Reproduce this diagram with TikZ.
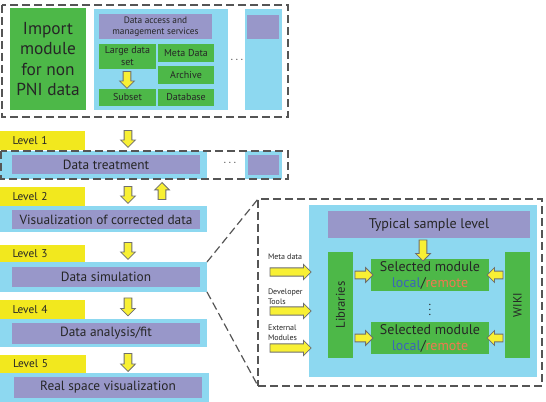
\documentclass[tikz,border=0pt]{standalone}
\usepackage{fontspec}
\setmainfont{PT Sans}
\usetikzlibrary{shapes.arrows,calc}

\definecolor{modgreen}{RGB}{77,184,72}
\definecolor{skyblue}{RGB}{141,216,240}
\definecolor{lavender}{RGB}{152,151,201}
\definecolor{lvlyellow}{RGB}{242,232,30}
\definecolor{arryellow}{RGB}{248,240,52}
\definecolor{arrgray}{RGB}{110,110,110}
\definecolor{dashgray}{RGB}{85,85,85}
\definecolor{localblue}{RGB}{60,100,185}
\definecolor{remoteorange}{RGB}{240,120,80}

\tikzset{
  sz/.style 2 args={minimum width=#1*0.75pt, minimum height=#2*0.75pt},
  plain/.style={inner sep=0pt, outer sep=0pt, align=center, text=black!85},
  gbox/.style={plain, fill=modgreen},
  bbox/.style={plain, fill=skyblue},
  pbox/.style={plain, fill=lavender},
  lvl/.style={plain, fill=lvlyellow, align=left, inner xsep=9.5pt,
    text width=45pt, minimum height=#1*0.75pt, font=\fontsize{8.5}{10}\selectfont},
  dashbox/.style={draw=dashgray, line width=0.9pt, dash pattern=on 6pt off 3pt},
  fatarrow/.style={single arrow, draw=arrgray, fill=arryellow, line width=0.6pt,
    inner ysep=2.6pt, inner xsep=0pt, single arrow head extend=2.6pt,
    single arrow head indent=0pt, minimum height=#1*0.75pt}
}

\begin{document}
\begin{tikzpicture}[x=0.75pt,y=0.75pt,yscale=-1,xscale=1]
\useasboundingbox (0,0) rectangle (546,402);

% import block
\node[gbox, sz={76}{102}, font=\fontsize{13}{15.4}\selectfont] (import) at (48,59) {Import\\module\\for non\\PNI data};
\node[bbox, sz={134}{101}] (dataaccess) at (161,59.5) {};
\node[pbox, sz={113}{25}, font=\fontsize{7}{8.6}\selectfont] (services) at (155.5,26.5) {Data access and\\management services};
\node[gbox, sz={57}{25}, font=\fontsize{7.5}{9}\selectfont] (largeset) at (127.5,56.5) {Large data\\set};
\node[gbox, sz={56}{18}, font=\fontsize{7.5}{9}\selectfont] (metadata) at (186,53) {Meta Data};
\node[gbox, sz={56}{18}, font=\fontsize{7.5}{9}\selectfont] (archive) at (186,75) {Archive};
\node[gbox, sz={57}{17}, font=\fontsize{7.5}{9}\selectfont] (subset) at (127.5,97.5) {Subset};
\node[gbox, sz={56}{17}, font=\fontsize{7.5}{9}\selectfont] (database) at (186,97.5) {Database};
\node[fatarrow={17}, rotate=-90] (setarrow) at (127,78) {};
\node[plain, font=\fontsize{8}{9}\selectfont] (dotsa) at (237,60) {$\cdots$};
\node[bbox, sz={37}{101}] (moreaccess) at (263.5,59.5) {};
\node[pbox, sz={32}{24}] (moreservices) at (263,27) {};
\draw[dashbox] (2,5) rectangle (288,117);

% levels
\node[fatarrow={17}, rotate=-90] (arrowa) at (128,137) {};
\node[lvl={19}] (levela) at (42.5,140.5) {Level 1};
\node[bbox, sz={207}{28}] (treatbg) at (103.5,165) {};
\node[pbox, sz={188}{19}, font=\fontsize{10}{12}\selectfont] (treat) at (106,164.5) {Data treatment};
\node[plain, font=\fontsize{8}{9}\selectfont] (dotsb) at (230,163) {$\cdots$};
\node[bbox, sz={37}{28}] (moretreatbg) at (263.5,165) {};
\node[pbox, sz={31}{20}] (moretreat) at (263.5,165) {};
\draw[dashbox] (1,151) rectangle (288,179);

\node[fatarrow={17}, rotate=-90] (arrowb) at (128,193) {};
\node[fatarrow={17}, rotate=90] (arrowback) at (162,193) {};
\node[lvl={19}] (levelb) at (42.5,196.5) {Level 2};
\node[bbox, sz={207}{26}] (visbg) at (103.5,219) {};
\node[pbox, sz={188}{19}, font=\fontsize{10}{12}\selectfont] (vis) at (106,219.5) {Visualization of corrected data};

\node[fatarrow={17}, rotate=-90] (arrowc) at (128,249) {};
\node[lvl={17}] (levelc) at (42.5,253.5) {Level 3};
\node[bbox, sz={207}{30}] (simbg) at (103.5,277) {};
\node[pbox, sz={188}{20}, font=\fontsize{10}{12}\selectfont] (sim) at (106,277) {Data simulation};

\node[fatarrow={18}, rotate=-90] (arrowd) at (128,305) {};
\node[lvl={19}] (leveld) at (42.5,309.5) {Level 4};
\node[bbox, sz={207}{28}] (fitbg) at (103.5,333) {};
\node[pbox, sz={188}{21}, font=\fontsize{10}{12}\selectfont] (fit) at (106,333.5) {Data analysis/fit};

\node[fatarrow={18}, rotate=-90] (arrowe) at (128,360.5) {};
\node[lvl={18}] (levele) at (43,364) {Level 5};
\node[bbox, sz={209}{29}] (realbg) at (104.5,387.5) {};
\node[pbox, sz={188}{21}, font=\fontsize{10}{12}\selectfont] (real) at (108,387.5) {Real space visualization};

% zoom on data simulation
\node[dashbox, plain, sz={284}{187}] (zoom) at (400,292.5) {};
\draw[dashbox] (simbg.north east) -- (zoom.north west);
\draw[dashbox] (simbg.south east) -- (zoom.south west);

\node[bbox, sz={228}{172}] (panel) at (423,291) {};
\node[pbox, sz={202}{27}, font=\fontsize{10.5}{12}\selectfont] (typical) at (429,224.5) {Typical sample level};
\node[gbox, sz={106}{25}, rotate=90, font=\fontsize{9.5}{11}\selectfont] (libs) at (340.5,305) {Libraries};
\node[gbox, sz={106}{25}, rotate=90, font=\fontsize{9}{11}\selectfont] (wiki) at (517.5,305) {WIKI};
\node[gbox, sz={118}{32}, font=\fontsize{10.5}{12}\selectfont] (selecta) at (430,275) {Selected module\\\textcolor{localblue}{local}/\textcolor{remoteorange}{remote}};
\node[gbox, sz={118}{32}, font=\fontsize{10.5}{12}\selectfont] (selectb) at (430,338) {Selected module\\\textcolor{localblue}{local}/\textcolor{remoteorange}{remote}};
\node[plain, font=\fontsize{9}{10}\selectfont] (vdotsel) at (430,306) {$\vdots$};

\node[fatarrow={21}, rotate=-90] (typarrow) at ($(typical.south)!0.5!(typical.south |- selecta.north) + (-6,0)$) {};
\node[fatarrow={18}] (libarrowa) at ($(libs.south |- selecta.west)!0.5!(selecta.west)$) {};
\node[fatarrow={18}] (libarrowb) at ($(libs.south |- selectb.west)!0.5!(selectb.west)$) {};
\node[fatarrow={16}, rotate=180] (wikiarrowa) at ($(wiki.north |- selecta.east)!0.5!(selecta.east)$) {};
\node[fatarrow={16}, rotate=180] (wikiarrowb) at ($(wiki.north |- selectb.east)!0.5!(selectb.east)$) {};

% inputs
\node[plain, anchor=west, align=left, font=\fontsize{6}{7.8}\selectfont] (metalabel) at (268,257) {Meta data};
\node[plain, anchor=west, align=left, font=\fontsize{6}{7.8}\selectfont] (devlabel) at (268,297) {Developer\\Tools};
\node[plain, anchor=west, align=left, font=\fontsize{6}{7.8}\selectfont] (extlabel) at (268,333) {External\\Modules};
\node[fatarrow={41}, inner ysep=2.8pt, single arrow head extend=2.6pt] (metain) at (288.5,272) {};
\node[fatarrow={41}, inner ysep=2.8pt, single arrow head extend=2.6pt] (devin) at (288.5,311) {};
\node[fatarrow={41}, inner ysep=2.8pt, single arrow head extend=2.6pt] (extin) at (288.5,348) {};

\end{tikzpicture}
\end{document}
